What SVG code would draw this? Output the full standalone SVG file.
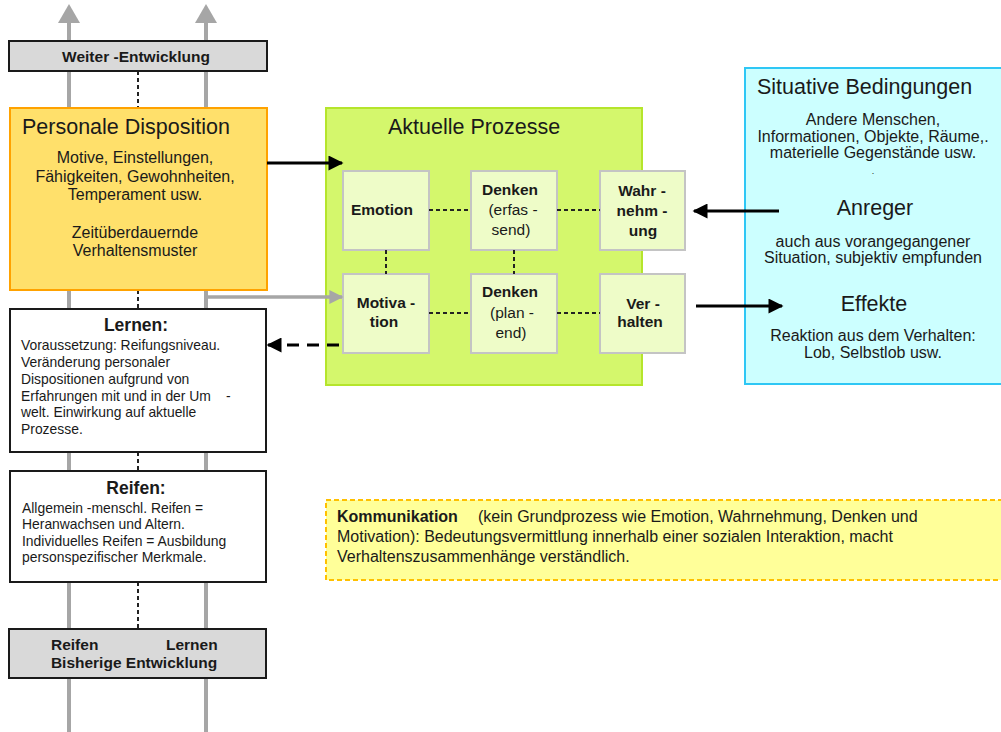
<svg xmlns="http://www.w3.org/2000/svg" width="1001" height="732" viewBox="0 0 1001 732">
<defs>
<style>
text{font-family:"Liberation Sans",Arial,sans-serif;fill:#1a1a1a}
.t21{font-size:21.5px}
.b15{font-size:15.5px;font-weight:bold}
.n15{font-size:15.5px}
.n16{font-size:16px}
.n14{font-size:13.9px}
.h17{font-size:17.5px;font-weight:bold}
.c{text-anchor:middle}
.grayln{stroke:#a6a6a6;stroke-width:4;fill:none}
.dot{stroke:#222;stroke-width:2;stroke-dasharray:4 3;fill:none}
.blk{stroke:#000;stroke-width:3;fill:none}
.ibox{fill:#eefcc8;stroke:#c4c4c4;stroke-width:2}
</style>
<marker id="ab" viewBox="0 0 10 10" refX="9" refY="5" markerWidth="16" markerHeight="15" orient="auto" markerUnits="userSpaceOnUse"><path d="M0,0 L10,5 L0,10 z" fill="#000"/></marker>
<marker id="ag" viewBox="0 0 10 10" refX="9" refY="5" markerWidth="16" markerHeight="14" orient="auto" markerUnits="userSpaceOnUse"><path d="M0,0 L10,5 L0,10 z" fill="#a6a6a6"/></marker>
</defs>

<g id="backbone">
<line class="grayln" x1="69" y1="732" x2="69" y2="20"/>
<polygon points="58,23 80,23 69,4" fill="#a6a6a6"/>
<line class="grayln" x1="206" y1="732" x2="206" y2="20"/>
<polygon points="195,23 217,23 206,4" fill="#a6a6a6"/>
<line class="dot" x1="138" y1="71" x2="138" y2="108"/>
<line class="dot" x1="138" y1="290" x2="138" y2="309"/>
<line class="dot" x1="138" y1="452" x2="138" y2="471"/>
<line class="dot" x1="138" y1="582" x2="138" y2="629"/>
</g>

<g id="weiter">
<rect x="9" y="41" width="258" height="30" fill="#d9d9d9" stroke="#1a1a1a" stroke-width="2"/>
<text class="b15 c" x="136" y="62">Weiter -Entwicklung</text>
</g>

<g id="personale">
<rect x="10" y="108" width="257" height="182" fill="#ffe06b" stroke="#ffa200" stroke-width="2"/>
<text class="t21" x="22" y="134">Personale Disposition</text>
<text class="n16 c" x="135" y="163">Motive, Einstellungen,</text>
<text class="n16 c" x="135" y="182">Fähigkeiten, Gewohnheiten,</text>
<text class="n16 c" x="135" y="200">Temperament usw.</text>
<text class="n16 c" x="135" y="238">Zeitüberdauernde</text>
<text class="n16 c" x="135" y="256">Verhaltensmuster</text>
</g>

<g id="lernen">
<rect x="10" y="309" width="256" height="143" fill="#fff" stroke="#1a1a1a" stroke-width="2"/>
<text class="h17 c" x="136" y="331">Lernen:</text>
<text class="n14" x="21" y="350">Voraussetzung: Reifungsniveau.</text>
<text class="n14" x="21" y="367">Veränderung personaler</text>
<text class="n14" x="21" y="384">Dispositionen aufgrund von</text>
<text class="n14" x="21" y="401">Erfahrungen mit und in der Um<tspan x="226">-</tspan></text>
<text class="n14" x="21" y="417">welt. Einwirkung auf aktuelle</text>
<text class="n14" x="21" y="434">Prozesse.</text>
</g>

<g id="reifen">
<rect x="10" y="471" width="256" height="111" fill="#fff" stroke="#1a1a1a" stroke-width="2"/>
<text class="h17 c" x="136" y="494">Reifen:</text>
<text class="n14" x="22" y="513">Allgemein -menschl. Reifen =</text>
<text class="n14" x="22" y="529">Heranwachsen und Altern.</text>
<text class="n14" x="22" y="546">Individuelles Reifen = Ausbildung</text>
<text class="n14" x="22" y="562">personspezifischer Merkmale.</text>
</g>

<g id="bisherige">
<rect x="9" y="629" width="257" height="49" fill="#d9d9d9" stroke="#1a1a1a" stroke-width="2"/>
<text class="b15" x="51" y="650">Reifen</text>
<text class="b15" x="166" y="650">Lernen</text>
<text class="b15 c" x="134" y="668">Bisherige Entwicklung</text>
</g>

<g id="aktuelle">
<rect x="326" y="108" width="316" height="277" fill="#d4f76c" stroke="#b5e52c" stroke-width="2"/>
<text class="t21" x="388" y="134">Aktuelle Prozesse</text>
</g>

<g id="emotion">
<rect class="ibox" x="343" y="171" width="86" height="79"/>
<text class="b15 c" x="382" y="215">Emotion</text>
</g>
<g id="denken1">
<rect class="ibox" x="471" y="171" width="86" height="79"/>
<text class="b15 c" x="510" y="195">Denken</text>
<text class="n15 c" x="513" y="215">(erfas -</text>
<text class="n15 c" x="511" y="235">send)</text>
</g>
<g id="wahrnehmung">
<rect class="ibox" x="600" y="171" width="85" height="79"/>
<text class="b15 c" x="642" y="196">Wahr -</text>
<text class="b15 c" x="642" y="216">nehm -</text>
<text class="b15 c" x="643" y="236">ung</text>
</g>
<g id="motivation">
<rect class="ibox" x="343" y="274" width="86" height="79"/>
<text class="b15 c" x="386" y="308">Motiva -</text>
<text class="b15 c" x="384" y="327">tion</text>
</g>
<g id="denken2">
<rect class="ibox" x="471" y="274" width="86" height="79"/>
<text class="b15 c" x="510" y="297">Denken</text>
<text class="n15 c" x="512" y="318">(plan -</text>
<text class="n15 c" x="511" y="338">end)</text>
</g>
<g id="verhalten">
<rect class="ibox" x="600" y="274" width="85" height="79"/>
<text class="b15 c" x="643" y="309">Ver -</text>
<text class="b15 c" x="640" y="327">halten</text>
</g>

<g id="situative">
<rect x="745" y="68" width="260" height="316" fill="#ccffff" stroke="#2ec7f5" stroke-width="2"/>
<text class="t21" x="757" y="94">Situative Bedingungen</text>
<text class="n16 c" x="873" y="125">Andere Menschen,</text>
<text class="n16 c" x="873" y="142">Informationen, Objekte, Räume,.</text>
<text class="n16 c" x="873" y="158">materielle Gegenstände usw.</text>
<text class="c" x="873" y="174" style="font-size:9px">.</text>
<text class="t21 c" x="875" y="215">Anreger</text>
<text class="n16 c" x="873" y="247">auch aus vorangegangener</text>
<text class="n16 c" x="873" y="263">Situation, subjektiv empfunden</text>
<text class="t21 c" x="874" y="311">Effekte</text>
<text class="n16 c" x="873" y="341">Reaktion aus dem Verhalten:</text>
<text class="n16 c" x="873" y="358">Lob, Selbstlob usw.</text>
</g>

<g id="kommunikation">
<rect x="326" y="500" width="680" height="80" fill="#ffff99" stroke="#ffc000" stroke-width="2" stroke-dasharray="5 3"/>
<text class="n16" x="337" y="522"><tspan font-weight="bold">Kommunikation</tspan><tspan x="478">(kein Grundprozess wie Emotion, Wahrnehmung, Denken und</tspan></text>
<text class="n16" x="337" y="542">Motivation): Bedeutungsvermittlung innerhalb einer sozialen Interaktion, macht</text>
<text class="n16" x="337" y="562">Verhaltenszusammenhänge verständlich.</text>
</g>

<g id="connectors">
<line class="dot" x1="429" y1="210" x2="471" y2="210"/>
<line class="dot" x1="557" y1="210" x2="600" y2="210"/>
<line class="dot" x1="429" y1="313" x2="471" y2="313"/>
<line class="dot" x1="557" y1="313" x2="600" y2="313"/>
<line class="dot" x1="386" y1="250" x2="386" y2="274"/>
<line class="dot" x1="514" y1="250" x2="514" y2="274"/>
<line stroke="#a6a6a6" stroke-width="3.5" x1="206" y1="297" x2="342" y2="297" marker-end="url(#ag)"/>
<line class="blk" x1="267" y1="163" x2="342" y2="163" marker-end="url(#ab)"/>
<line class="blk" x1="339" y1="345" x2="268" y2="345" stroke-dasharray="12 8" marker-end="url(#ab)"/>
<line class="blk" x1="779" y1="211" x2="694" y2="211" marker-end="url(#ab)"/>
<line class="blk" x1="696" y1="306" x2="782" y2="306" marker-end="url(#ab)"/>
</g>
</svg>
